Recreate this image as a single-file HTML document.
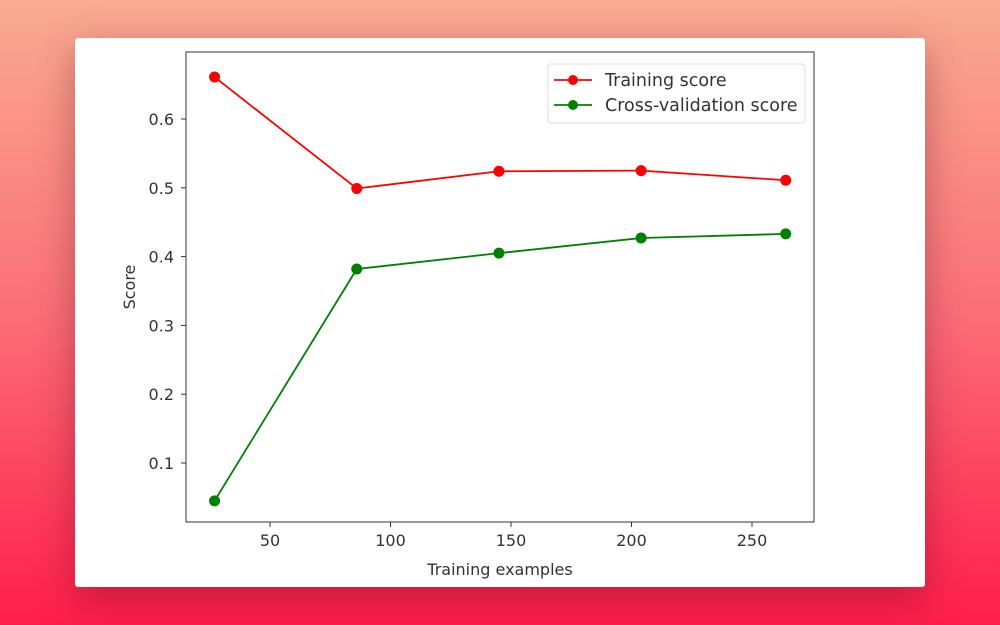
<!DOCTYPE html>
<html><head><meta charset="utf-8"><style>
body{margin:0;width:1000px;height:625px;overflow:hidden;background:linear-gradient(180deg,#f9ab92 0%,#fb6f78 50%,#ff1d4c 100%);font-family:"Liberation Sans","DejaVu Sans",sans-serif;}
#card{position:absolute;left:75px;top:38px;width:850px;height:549px;background:#fff;border-radius:3px;box-shadow:0 12px 40px rgba(80,0,20,0.35);}
svg{position:absolute;left:0;top:0}
text{font-family:"DejaVu Sans","Liberation Sans",sans-serif;font-size:16px;fill:#333}
</style></head><body>
<div id="card"></div>
<svg id="chart" width="1000" height="625"></svg>
<script>
const xValues=[27,86,145,204,264];
const trainScores=[0.661,0.499,0.524,0.525,0.511];
const cvScores=[0.045,0.382,0.405,0.427,0.433];
const xTicks=[50,100,150,200,250];
const yTicks=[0.1,0.2,0.3,0.4,0.5,0.6];
const L=186,R=814,T=52,B=522;
const sx=v=>270+(v-50)*482/200;
const sy=v=>463-(v-0.1)*688;
const svg=document.getElementById('chart');
const NS='http://www.w3.org/2000/svg';
function mk(t,a){const e=document.createElementNS(NS,t);for(const k in a)e.setAttribute(k,a[k]);svg.appendChild(e);return e;}
const frame=mk('rect',{x:L,y:T,width:R-L,height:B-T,fill:'none',stroke:'#333','stroke-width':1});


xTicks.forEach(v=>{const x=sx(v);
const l=mk('line',{x1:x,x2:x,y1:B,y2:B+5,stroke:'#333'});


const t=mk('text',{x:x,y:B+24,'text-anchor':'middle'});t.textContent=v;

});
yTicks.forEach(v=>{const y=sy(v);
const l=mk('line',{x1:L-5,x2:L,y1:y,y2:y,stroke:'#333'});


const t=mk('text',{x:L-12,y:y+6,'text-anchor':'end'});t.textContent=v.toFixed(1);

});
const xl=mk('text',{x:(L+R)/2,y:575,'text-anchor':'middle'});xl.textContent='Training examples';


const yl=mk('text',{x:0,y:0,'text-anchor':'middle',transform:`translate(135,${(T+B)/2}) rotate(-90)`});yl.textContent='Score';


function series(vals,color,name){
const p=mk('polyline',{points:vals.map((v,i)=>sx(xValues[i])+','+sy(v)).join(' '),fill:'none',stroke:color,'stroke-width':1.8});


vals.forEach((v,i)=>{const c=mk('circle',{cx:sx(xValues[i]),cy:sy(v),r:5.5,fill:color});

});}
series(trainScores,'#ff0000','training-score');
series(cvScores,'#008000','cv-score');
const lg=mk('rect',{x:548,y:64,width:257,height:59,rx:3,fill:'#fff',stroke:'#ddd'});


[['Training score','#ff0000',80],['Cross-validation score','#008000',105]].forEach(([n,c,y])=>{
const l=mk('line',{x1:554,x2:592,y1:y,y2:y,stroke:c,'stroke-width':1.8});


const d=mk('circle',{cx:573,cy:y,r:5,fill:c});


const t=mk('text',{x:605,y:y+6,style:'font-size:17.5px'});t.textContent=n;

});
</script>
</body></html>
